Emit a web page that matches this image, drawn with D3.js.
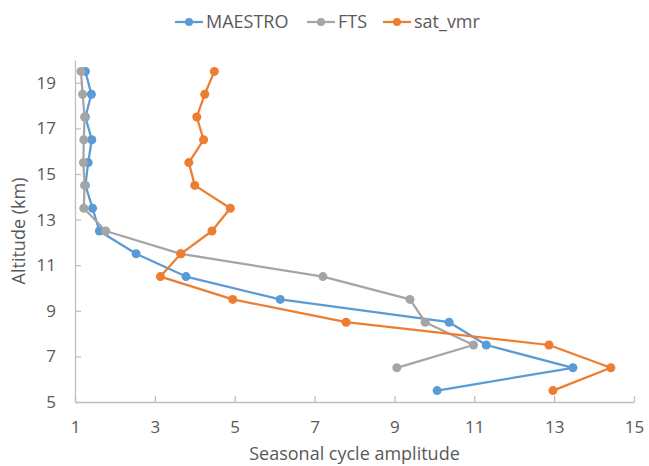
<!DOCTYPE html>
<html>
<head>
<meta charset="utf-8">
<script src="https://cdn.jsdelivr.net/npm/d3@7"></script>
<style>
  body { margin: 0; background: #fff; }
  text { font-family: "Open Sans", Lato, sans-serif; fill: #595959; }
</style>
</head>
<body>
<div class="svg_container"></div>
<script>
// altitudes (km), one per point
var altitude = [19.5, 18.5, 17.5, 16.5, 15.5, 14.5, 13.5, 12.5, 11.5, 10.5, 9.5, 8.5, 7.5, 6.5, 5.5];

// seasonal cycle amplitude per altitude (null = no value)
var maestro = [1.26, 1.41, 1.26, 1.42, 1.33, 1.26, 1.44, 1.61, 2.53, 3.78, 6.14, 10.37, 11.3, 13.47, 10.07];
var fts     = [1.15, 1.19, 1.24, 1.22, 1.21, 1.24, 1.22, 1.77, 3.65, 7.21, 9.39, 9.77, 10.98, 9.06, null];
var satVmr  = [4.49, 4.25, 4.05, 4.22, 3.85, 4.0, 4.89, 4.43, 3.65, 3.14, 4.95, 7.79, 12.87, 14.42, 12.97];

var xTicks = [1, 3, 5, 7, 9, 11, 13, 15];
var yTicks = [5, 7, 9, 11, 13, 15, 17, 19];

var series = [
  { name: "MAESTRO", values: maestro, color: "#5B9BD5" },
  { name: "FTS", values: fts, color: "#A5A5A5" },
  { name: "sat_vmr", values: satVmr, color: "#ED7D31" }
];

var W = 649, H = 466;
var margin = { top: 60, right: 15, bottom: 64, left: 75 },
  width = W - margin.left - margin.right,
  height = H - margin.top - margin.bottom;

var x = d3.scaleLinear().domain([1, 15]).range([0, width]);
var y = d3.scaleLinear().domain([5, 20]).range([height, 0]);

var svg = d3.select(".svg_container").append("svg")
  .attr("width", W)
  .attr("height", H);

var g = svg.append("g")
  .attr("transform", "translate(" + margin.left + "," + margin.top + ")");

// axes, tick marks point into the plot
var xAxis = g.append("g")
  .attr("transform", "translate(0," + height + ")")
  .call(d3.axisBottom(x).tickValues(xTicks).tickSizeInner(-6).tickSizeOuter(0).tickPadding(19));
var yAxis = g.append("g")
  .call(d3.axisLeft(y).tickValues(yTicks).tickSizeInner(-6).tickSizeOuter(0).tickPadding(19));

[xAxis, yAxis].forEach(function(a) {
  a.select(".domain").attr("stroke", "#BFBFBF").attr("stroke-width", 1.3);
  a.selectAll(".tick line").attr("stroke", "#BFBFBF").attr("stroke-width", 1.3);
  a.selectAll(".tick text").style("font-size", "17px").attr("fill", "#595959");
});

// lines and markers
var line = d3.line()
  .defined(function(d) { return d.v != null; })
  .x(function(d) { return x(d.v); })
  .y(function(d) { return y(d.a); });

series.forEach(function(s) {
  var pts = altitude.map(function(a, i) { return { a: a, v: s.values[i] }; });
  g.append("path")
    .datum(pts)
    .attr("fill", "none")
    .attr("stroke", s.color)
    .attr("stroke-width", 2.25)
    .attr("stroke-linejoin", "round")
    .attr("d", line);
  g.selectAll(null)
    .data(pts.filter(function(d) { return d.v != null; }))
    .enter().append("circle")
    .attr("cx", function(d) { return x(d.v); })
    .attr("cy", function(d) { return y(d.a); })
    .attr("r", 4.5)
    .attr("fill", s.color);
});

// axis titles
svg.append("text")
  .attr("x", margin.left + width / 2)
  .attr("y", 460)
  .attr("text-anchor", "middle")
  .style("font-size", "18px")
  .text("Seasonal cycle amplitude");

svg.append("text")
  .attr("transform", "translate(25," + (margin.top + height / 2) + ") rotate(-90)")
  .attr("text-anchor", "middle")
  .style("font-size", "18px")
  .text("Altitude (km)");

// legend
var legendX = [175, 307, 383];
var legend = svg.append("g").attr("transform", "translate(0,22)");
series.forEach(function(s, i) {
  var lg = legend.append("g").attr("transform", "translate(" + legendX[i] + ",0)");
  lg.append("line").attr("x1", 0).attr("x2", 28).attr("y1", 0).attr("y2", 0)
    .attr("stroke", s.color).attr("stroke-width", 2.25);
  lg.append("circle").attr("cx", 14).attr("cy", 0).attr("r", 4).attr("fill", s.color);
  lg.append("text").attr("x", 31).attr("y", 0).attr("dy", "0.36em")
    .style("font-size", "18px").text(s.name);
});
</script>
</body>
</html>
